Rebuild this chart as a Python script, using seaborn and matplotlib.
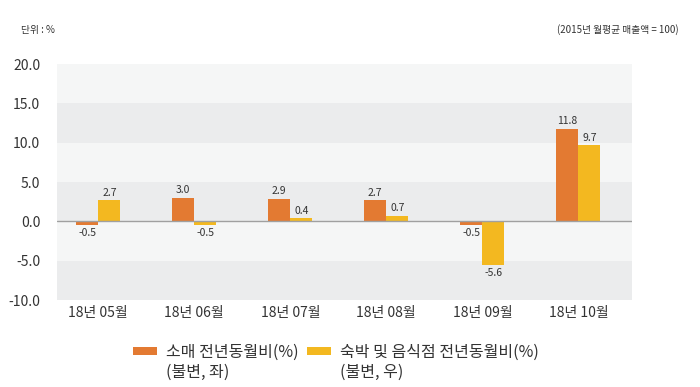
import pandas as pd
import matplotlib.pyplot as plt
import seaborn as sns
from matplotlib.patches import Patch, Rectangle
from matplotlib.legend_handler import HandlerPatch

# Data
months = ['18년 05월', '18년 06월', '18년 07월', '18년 08월', '18년 09월', '18년 10월']
retail = [-0.5, 3.0, 2.9, 2.7, -0.5, 11.8]
lodging = [2.7, -0.5, 0.4, 0.7, -5.6, 9.7]
series_names = ['소매 전년동월비(%)\n(불변, 좌)', '숙박 및 음식점 전년동월비(%)\n(불변, 우)']
yticks = [20, 15, 10, 5, 0, -5, -10]

df = pd.DataFrame({
    'month': months * 2,
    'value': retail + lodging,
    'series': [series_names[0]] * len(months) + [series_names[1]] * len(months),
})

sns.set_style('white')
plt.rcParams['font.family'] = ['Noto Sans CJK KR', 'DejaVu Sans']

colors = ['#E37A32', '#F3B820']
text_color = '#333333'

fig = plt.figure(figsize=(7, 3.87), dpi=100)
ax = fig.add_axes([0.0814, 0.2248, 0.8216, 0.6098])

# alternating background bands
for i, (hi, lo) in enumerate(zip(yticks[:-1], yticks[1:])):
    ax.axhspan(lo, hi, color='#f5f6f6' if i % 2 == 0 else '#ebeced', zorder=0, lw=0)

sns.barplot(data=df, x='month', y='value', hue='series', palette=colors,
            width=0.46, saturation=1, ax=ax, legend=False, zorder=2, linewidth=0)

ax.axhline(0, color='#a0a0a0', lw=1, zorder=3)

# value labels
for cont in ax.containers:
    for bar in cont:
        h = bar.get_height()
        xc = bar.get_x() + bar.get_width() / 2
        if h >= 0:
            ax.text(xc, h + 0.3, f'{h:.1f}', ha='center', va='bottom', fontsize=7.5, color=text_color)
        else:
            ax.text(xc, h - 0.3, f'{h:.1f}', ha='center', va='top', fontsize=7.5, color=text_color)

ax.set_ylim(-10, 20)
ax.set_xlim(-0.43, 5.56)
ax.set_yticks(yticks)
ax.set_yticklabels([f'{t:.1f}' for t in yticks], fontsize=10, color=text_color)
ax.tick_params(axis='both', length=0, pad=4)
ax.tick_params(axis='y', pad=12)
ax.set_xticks(range(len(months)))
ax.set_xticklabels(months, fontsize=10, color=text_color)
ax.set_xlabel('')
ax.set_ylabel('')
for s in ax.spines.values():
    s.set_visible(False)

fig.text(0.03, 0.915, '단위 : %', fontsize=7, color=text_color)
fig.text(0.97, 0.915, '(2015년 월평균 매출액 = 100)', fontsize=7, color=text_color, ha='right')


def top_patch(legend, orig_handle, xdescent, ydescent, width, height, fontsize):
    # keep the swatch level with the first text line
    return Rectangle((-xdescent, -ydescent + fontsize * 0.75), width, height)


handles = [Patch(facecolor=c, edgecolor='none', label=n) for c, n in zip(colors, series_names)]
fig.legend(handles=handles, loc='lower center', bbox_to_anchor=(0.48, -0.02), ncol=2,
           frameon=False, fontsize=11.5, handlelength=1.5, handleheight=0.45,
           columnspacing=0.5, handletextpad=0.6, labelcolor=text_color,
           handler_map={Patch: HandlerPatch(patch_func=top_patch)})

fig.savefig('out.png', dpi=100)
